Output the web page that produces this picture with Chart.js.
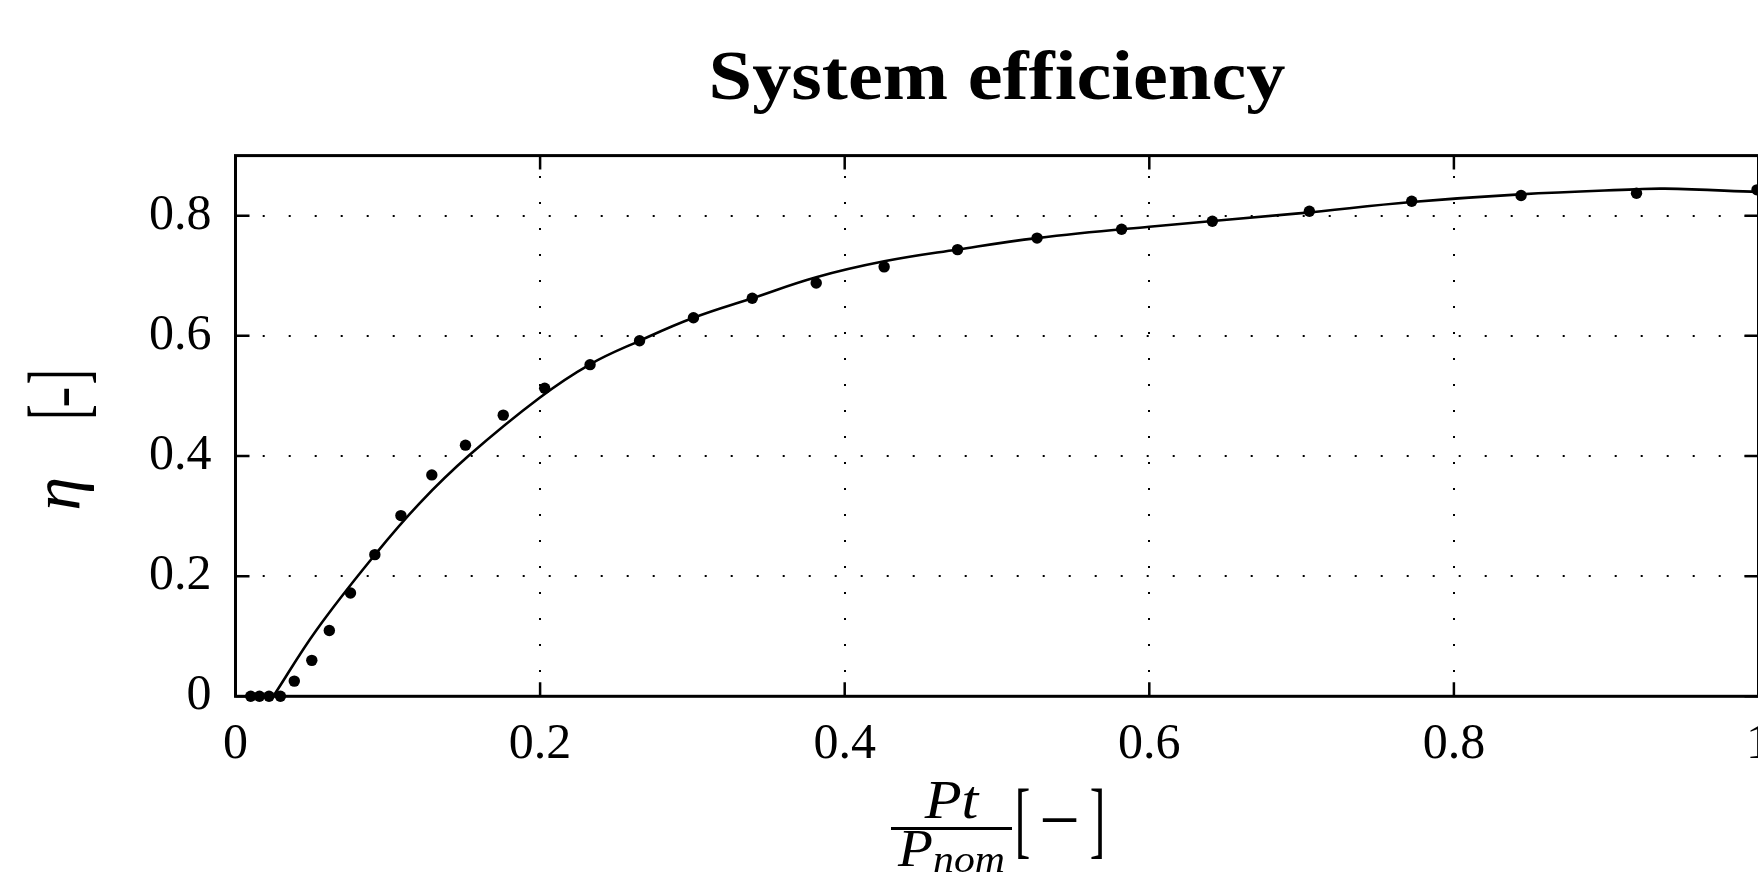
<!DOCTYPE html>
<html>
<head>
<meta charset="utf-8">
<script src="https://cdn.jsdelivr.net/npm/chart.js@4.4.0/dist/chart.umd.min.js"></script>
<style>
  html, body { margin: 0; padding: 0; overflow: hidden; background: #fff; }
  #wrap { width: 1790px; height: 900px; }
</style>
</head>
<body>
<div id="wrap"><canvas id="chart" width="1790" height="900"></canvas></div>
<script>
// measured points (dots)
const measuredX = [0.0100, 0.0157, 0.0220, 0.0295, 0.0386, 0.0501, 0.0616, 0.0755, 0.0915, 0.1086,
                   0.1289, 0.1510, 0.1758, 0.2030, 0.2328, 0.2653, 0.3007, 0.3393, 0.3813, 0.4259,
                   0.4741, 0.5263, 0.5818, 0.6414, 0.7051, 0.7723, 0.8441, 0.9199, 0.9990]
const measuredY = [0, 0, 0, 0, 0.0253, 0.0598, 0.1095, 0.1720, 0.2358, 0.3008,
                   0.3685, 0.4180, 0.4680, 0.5127, 0.5520, 0.5917, 0.6300, 0.6625, 0.6880, 0.7148,
                   0.7435, 0.7627, 0.7773, 0.7908, 0.8073, 0.8240, 0.8335, 0.8373, 0.8430]

// fitted curve
const fitX = [0.0248, 0.0532, 0.0915, 0.1210, 0.1538, 0.1997, 0.2325, 0.2653, 0.3007, 0.3393,
              0.3813, 0.4259, 0.4744, 0.5263, 0.6000, 0.6980, 0.7723, 0.8434, 0.9188, 0.9385, 1.0]
const fitY = [0, 0.1105, 0.2355, 0.3217, 0.4020, 0.4970, 0.5522, 0.5917, 0.6300, 0.6625,
              0.6975, 0.7240, 0.7438, 0.7627, 0.7817, 0.8038, 0.8227, 0.8355, 0.8438, 0.8450, 0.8395]

const xTicks = [0, 0.2, 0.4, 0.6, 0.8, 1]
const yTicks = [0, 0.2, 0.4, 0.6, 0.8]

const serif = "'Liberation Serif', 'Times New Roman', serif"
const H = 900

// box round the plot, with inward tick marks
const frame = {
    id: 'frame',
    beforeDatasetsDraw(chart) {
        const { ctx, chartArea: a, scales: { x, y } } = chart
        ctx.save()
        ctx.strokeStyle = '#000'
        ctx.lineWidth = 2.5
        ctx.beginPath()
        xTicks.forEach(v => {
            const px = x.getPixelForValue(v)
            ctx.moveTo(px, a.bottom); ctx.lineTo(px, a.bottom - 14)
            ctx.moveTo(px, a.top); ctx.lineTo(px, a.top + 14)
        })
        yTicks.forEach(v => {
            const py = y.getPixelForValue(v)
            ctx.moveTo(a.left, py); ctx.lineTo(a.left + 14, py)
            ctx.moveTo(a.right, py); ctx.lineTo(a.right - 14, py)
        })
        ctx.stroke()
        ctx.lineWidth = 3
        ctx.strokeRect(a.left, a.top, a.right - a.left, a.bottom - a.top)
        ctx.restore()
    }
}

function glyph(ctx, ch, x, y, size, sx, style) {
    ctx.save()
    ctx.translate(x, y)
    ctx.scale(sx, 1)
    ctx.font = `${style} ${size}px ${serif}`
    ctx.fillText(ch, 0, 0)
    ctx.restore()
}

// title and axis labels: Pt / P_nom [−]  and  η [-]
const texts = {
    id: 'texts',
    afterDraw(chart) {
        const { ctx, chartArea: a } = chart
        const mid = (a.left + a.right) / 2
        ctx.save()
        ctx.fillStyle = '#000'
        ctx.textAlign = 'center'
        ctx.textBaseline = 'alphabetic'

        glyph(ctx, 'System efficiency', mid, 99, 70, 1.12, 'bold')

        // x label
        const x0 = mid - 106
        const fc = x0 + 60.5
        glyph(ctx, 'Pt', fc, 818, 54, 1.12, 'italic')
        ctx.fillRect(x0, 827, 121, 3)
        ctx.font = `italic 52px ${serif}`
        const pW = ctx.measureText('P').width * 1.1
        ctx.font = `italic 38px ${serif}`
        const nW = ctx.measureText('nom').width * 1.1
        const d0 = fc - (pW + nW) / 2
        ctx.textAlign = 'left'
        glyph(ctx, 'P', d0, 866, 52, 1.1, 'italic')
        glyph(ctx, 'nom', d0 + pW, 872, 38, 1.1, 'italic')
        ctx.textAlign = 'center'
        glyph(ctx, '[', x0 + 131.5, 848, 85, 0.55, 'normal')
        glyph(ctx, '\u2212', x0 + 168.5, 844, 72, 1, 'normal')
        glyph(ctx, ']', x0 + 206.5, 848, 85, 0.55, 'normal')

        // y label, rotated
        ctx.save()
        ctx.translate(80, 507)
        ctx.rotate(-Math.PI / 2)
        glyph(ctx, '\u03b7', 13, 0, 68, 1, 'italic')
        glyph(ctx, '[', 95, 5, 82, 0.55, 'normal')
        glyph(ctx, '-', 110, 2, 64, 1, 'normal')
        glyph(ctx, ']', 130, 5, 82, 0.55, 'normal')
        ctx.restore()

        ctx.restore()
    }
}

const ctx = document.getElementById('chart').getContext('2d')

new Chart(ctx, {
    type: 'scatter',
    data: {
        datasets: [
            {
                label: 'measured',
                data: measuredX.map((v, i) => ({ x: v, y: measuredY[i] })),
                backgroundColor: '#000',
                borderWidth: 0,
                pointRadius: 5.7,
                clip: false
            },
            {
                label: 'fit',
                data: fitX.map((v, i) => ({ x: v, y: fitY[i] })),
                showLine: true,
                borderColor: '#000',
                borderWidth: 2.6,
                pointRadius: 0,
                tension: 0.4
            }
        ]
    },
    options: {
        responsive: false,
        animation: false,
        devicePixelRatio: 1,
        layout: { padding: { left: 0, right: 31.5, top: 155.6, bottom: 0 } },
        plugins: {
            legend: { display: false },
            tooltip: { enabled: false },
            title: { display: false }
        },
        scales: {
            x: {
                type: 'linear',
                min: 0,
                max: 1,
                afterBuildTicks: s => { s.ticks = xTicks.map(v => ({ value: v })) },
                afterFit: s => { s.paddingLeft = 0; s.paddingRight = 0; s.height = H - 696.3 },
                ticks: { color: '#000', font: { family: serif, size: 50 }, padding: 19, maxRotation: 0,
                         callback: v => String(v) },
                grid: { color: '#000', lineWidth: 2, drawTicks: false },
                border: { display: false, dash: [2, 24], dashOffset: 5.6 }
            },
            y: {
                type: 'linear',
                min: 0,
                max: 0.9,
                afterBuildTicks: s => { s.ticks = yTicks.map(v => ({ value: v })) },
                afterFit: s => { s.paddingTop = 0; s.paddingBottom = 0; s.width = 235.5 },
                ticks: { color: '#000', font: { family: serif, size: 50 }, padding: 24,
                         callback: v => String(v) },
                grid: { color: '#000', lineWidth: 2, drawTicks: false },
                border: { display: false, dash: [2, 24], dashOffset: 25.3 }
            }
        }
    },
    plugins: [frame, texts]
})
</script>
</body>
</html>
